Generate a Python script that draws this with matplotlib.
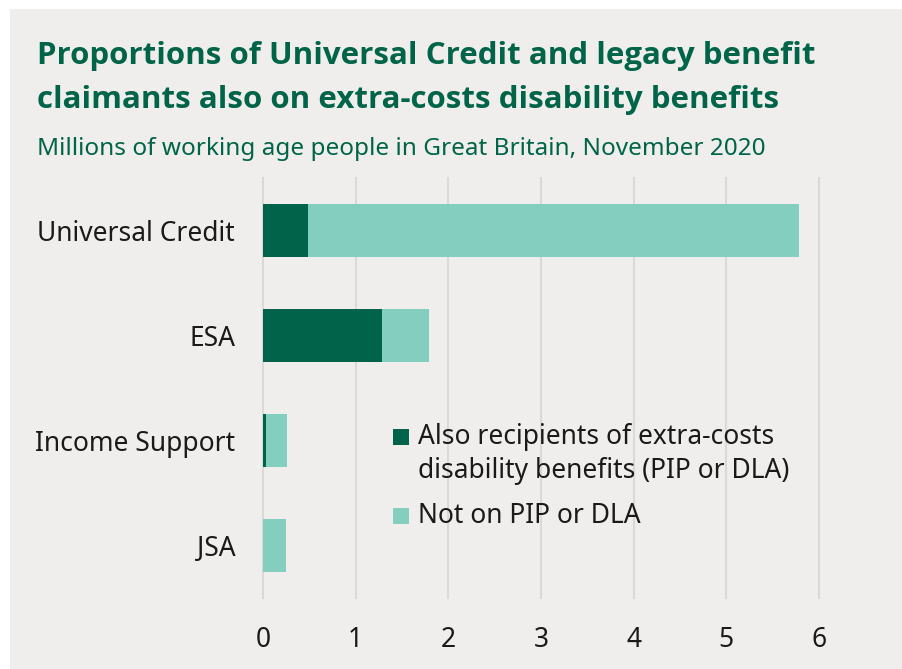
import matplotlib
matplotlib.use("Agg")
import matplotlib.pyplot as plt
import matplotlib.patches as mpatches

# --- Data (millions, working age, GB, Nov 2020) ---
benefits = ["Universal Credit", "ESA", "Income Support", "JSA"]
on_pip_dla = [0.49, 1.28, 0.03, 0.005]
not_on_pip_dla = [5.29, 0.51, 0.23, 0.245]
x_ticks = [0, 1, 2, 3, 4, 5, 6]

DARK = "#00634A"
LIGHT = "#84CEBF"
GREEN_TEXT = "#006548"
PANEL = "#EFEEEC"
GRID = "#DAD9D7"
TEXT = "#1A1A1A"

plt.rcParams["font.family"] = ["Noto Sans", "DejaVu Sans"]

W, H = 902, 669
fig = plt.figure(figsize=(W / 100, H / 100), dpi=100, facecolor="white")

# grey panel behind everything
fig.patches.append(mpatches.Rectangle((10 / W, 0), 1 - 10 / W, 1 - 9 / H,
                                      transform=fig.transFigure,
                                      facecolor=PANEL, edgecolor="none", zorder=-5))

ax = fig.add_axes([263 / W, 1 - 598 / H, 556 / W, 420 / H])
ax.set_zorder(1)
ax.set_facecolor("none")

y = list(range(len(benefits)))
ax.barh(y, on_pip_dla, height=0.5, color=DARK, zorder=3)
ax.barh(y, not_on_pip_dla, left=on_pip_dla, height=0.5, color=LIGHT, zorder=3)

ax.set_xlim(0, 6)
ax.set_ylim(len(benefits) - 0.5, -0.5)
ax.set_xticks(x_ticks)
ax.set_xticklabels([str(t) for t in x_ticks])
ax.set_yticks(y)
ax.set_yticklabels(benefits)
ax.tick_params(axis="both", length=0, labelsize=19, colors=TEXT)
ax.tick_params(axis="y", pad=20)
ax.tick_params(axis="x", pad=20)
ax.grid(axis="x", color=GRID, linewidth=1.5, zorder=0)
for gl in ax.get_xgridlines():
    gl.set_clip_on(False)
for s in ax.spines.values():
    s.set_visible(False)

# --- Titles ---
title_font = ["Open Sans", "DejaVu Sans"]
fig.text(37 / W, 1 - 64 / H, "Proportions of Universal Credit and legacy benefit",
         color=GREEN_TEXT, fontsize=22.5, fontweight="bold", family=title_font)
fig.text(37 / W, 1 - 108 / H, "claimants also on extra-costs disability benefits",
         color=GREEN_TEXT, fontsize=22.5, fontweight="bold", family=title_font)
fig.text(37 / W, 1 - 155 / H, "Millions of working age people in Great Britain, November 2020",
         color=GREEN_TEXT, fontsize=17.5)

# --- Legend (manual, swatch aligned with first line) ---
legend_items = [
    (DARK, "Also recipients of extra-costs\ndisability benefits (PIP or DLA)", 437),
    (LIGHT, "Not on PIP or DLA", 516),
]
for color, label, yc in legend_items:
    fig.patches.append(mpatches.Rectangle((393 / W, 1 - (yc + 8) / H), 16 / W, 16 / H,
                                          transform=fig.transFigure,
                                          facecolor=color, edgecolor="none", zorder=2))
    fig.text(418 / W, 1 - (yc - 14) / H, label, color=TEXT, fontsize=19,
             va="top", ha="left", linespacing=1.3, zorder=3)

fig.savefig("out.png", dpi=100, facecolor="white")
